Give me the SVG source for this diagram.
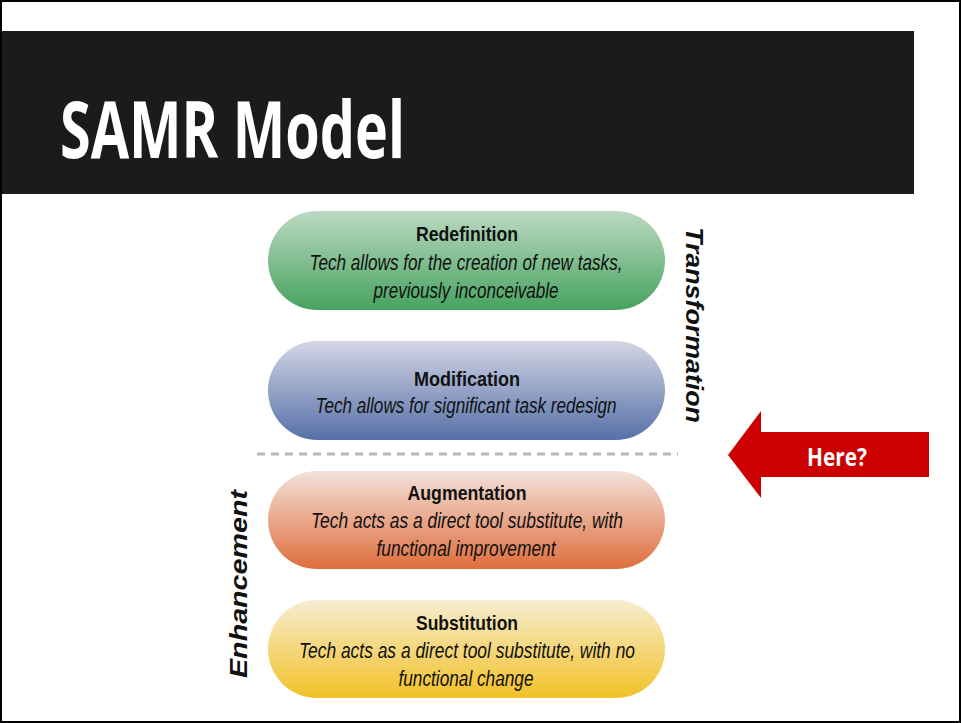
<svg xmlns="http://www.w3.org/2000/svg" width="961" height="723" viewBox="0 0 961 723">
<defs>
<linearGradient id="gG" x1="0" y1="0" x2="0" y2="1"><stop offset="0" stop-color="#bcd9c2"/><stop offset="1" stop-color="#47a35f"/></linearGradient>
<linearGradient id="gB" x1="0" y1="0" x2="0" y2="1"><stop offset="0" stop-color="#d3d6e5"/><stop offset="1" stop-color="#5670a8"/></linearGradient>
<linearGradient id="gO" x1="0" y1="0" x2="0" y2="1"><stop offset="0" stop-color="#f3e2da"/><stop offset="1" stop-color="#de6d3d"/></linearGradient>
<linearGradient id="gY" x1="0" y1="0" x2="0" y2="1"><stop offset="0" stop-color="#f6edd2"/><stop offset="1" stop-color="#f2c126"/></linearGradient>
</defs>
<style>
.t{font-family:"Liberation Sans",Arial,sans-serif;font-weight:bold;font-size:21px;fill:#111;text-anchor:middle}
.d{font-family:"Liberation Sans",Arial,sans-serif;font-style:italic;font-size:22.5px;fill:#111;text-anchor:middle}
.v{font-family:"Liberation Sans",Arial,sans-serif;font-style:italic;font-weight:bold;font-size:23px;fill:#111;text-anchor:middle}
</style>
<rect x="1" y="1" width="959" height="721" fill="#fff" stroke="#000" stroke-width="2"/>
<rect x="2" y="31" width="912" height="163" fill="#1b1b1b"/>
<text x="60" y="158" font-family="'Open Sans',sans-serif" font-weight="bold" font-size="78" fill="#fff" textLength="345" lengthAdjust="spacingAndGlyphs">SAMR Model</text>
<g id="redefinition">
<rect x="268" y="211" width="397" height="99" rx="49.5" fill="url(#gG)"/>
<text class="t" x="467" y="241" textLength="102" lengthAdjust="spacingAndGlyphs">Redefinition</text>
<text class="d" x="466" y="270" textLength="313" lengthAdjust="spacingAndGlyphs">Tech allows for the creation of new tasks,</text>
<text class="d" x="466" y="298" textLength="185" lengthAdjust="spacingAndGlyphs">previously inconceivable</text>
</g>
<g id="modification">
<rect x="268" y="341" width="397" height="99" rx="49.5" fill="url(#gB)"/>
<text class="t" x="467" y="386" textLength="106" lengthAdjust="spacingAndGlyphs">Modification</text>
<text class="d" x="466" y="413" textLength="301" lengthAdjust="spacingAndGlyphs">Tech allows for significant task redesign</text>
</g>
<g id="connectors">
<line x1="257" y1="454" x2="678" y2="454" stroke="#b3baba" stroke-width="3" stroke-dasharray="8,6"/>
</g>
<g id="augmentation">
<rect x="268" y="471" width="397" height="98" rx="49" fill="url(#gO)"/>
<text class="t" x="467" y="500" textLength="119" lengthAdjust="spacingAndGlyphs">Augmentation</text>
<text class="d" x="467" y="528" textLength="312" lengthAdjust="spacingAndGlyphs">Tech acts as a direct tool substitute, with</text>
<text class="d" x="466" y="556" textLength="179" lengthAdjust="spacingAndGlyphs">functional improvement</text>
</g>
<g id="substitution">
<rect x="268" y="600" width="397" height="98" rx="49" fill="url(#gY)"/>
<text class="t" x="467" y="630" textLength="102" lengthAdjust="spacingAndGlyphs">Substitution</text>
<text class="d" x="467" y="658" textLength="336" lengthAdjust="spacingAndGlyphs">Tech acts as a direct tool substitute, with no</text>
<text class="d" x="466" y="686" textLength="135" lengthAdjust="spacingAndGlyphs">functional change</text>
</g>
<g id="transformation">
<text class="v" transform="translate(686,325) rotate(90)" x="0" y="0" textLength="196" lengthAdjust="spacingAndGlyphs">Transformation</text>
</g>
<g id="enhancement">
<text class="v" transform="translate(247,584) rotate(-90)" x="0" y="0" textLength="188" lengthAdjust="spacingAndGlyphs">Enhancement</text>
</g>
<g id="here">
<polygon points="728,455 761,411 761,432 929,432 929,477 761,477 761,498" fill="#cc0000"/>
<text x="837" y="466" font-family="'Open Sans',sans-serif" font-weight="bold" font-size="25" fill="#fff" text-anchor="middle" textLength="60" lengthAdjust="spacingAndGlyphs">Here?</text>
</g>
</svg>
